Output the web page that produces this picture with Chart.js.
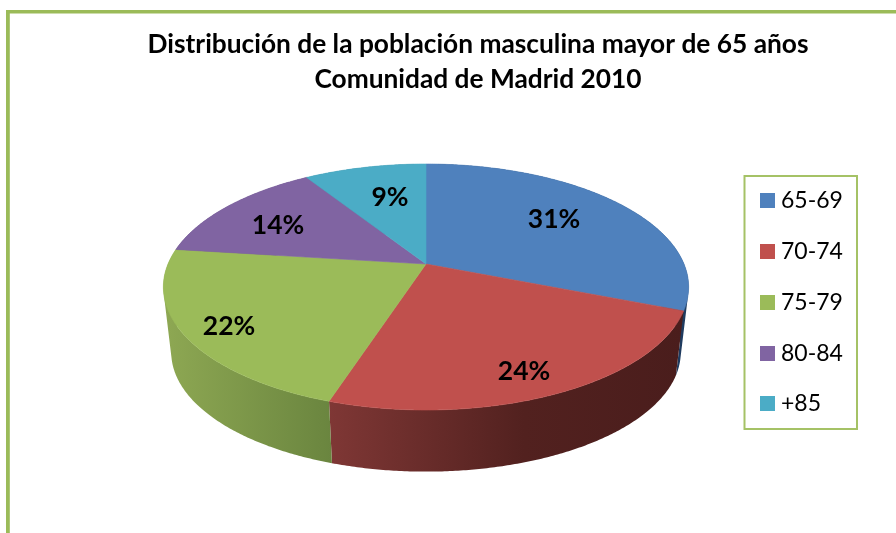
<!DOCTYPE html>
<html><head><meta charset="utf-8">
<style>html,body{margin:0;padding:0;background:#fff}canvas{display:block}</style>
<script src="https://cdn.jsdelivr.net/npm/chart.js@4/dist/chart.umd.min.js"></script>
</head><body>
<canvas id="c" width="896" height="533" style="width:896px;height:533px"></canvas>
<script>
const titleLines = ['Distribución de la población masculina mayor de 65 años','Comunidad de Madrid 2010'];
const categories = ['65-69','70-74','75-79','80-84','+85'];
const values = [31,24,22,14,9];
const colors = ['#4f81bd','#c0504d','#9bbb59','#8064a2','#4bacc6'];
const wallStops = [
  [[0,'#1f3b5f'],[1,'#1f3b5f']],
  [[0,'#7f3735'],[0.55,'#52211f'],[1,'#4a1d1c']],
  [[0,'#8ea853'],[1,'#6a853f']],
  [[0,'#5a4673'],[1,'#5a4673']],
  [[0,'#347a8d'],[1,'#347a8d']]
];
const labelSpots = [[554,219],[524,371],[229,326],[278,225],[390,197]];
const legendRows = [200.5,251.5,302.5,353.5,403.5];
const FRAME = '#9bbb59';

// Perspective view of the pie: top face and the base of the wall
const view = {cx:426, cy:264, rx:258, ry:118.7, k:0.187, baseCy:330, baseScale:0.97};
function project(a, r, cy, s){
  const u = Math.cos(a)*r, v = Math.sin(a)*r, w = 1 - view.k*v;
  return [view.cx + s*view.rx*u/w, cy + s*view.ry*v/w];
}
function sweep(a0, a1){
  const n = Math.max(2, Math.ceil((a1-a0)/(Math.PI/360))), out = [];
  for(let i=0;i<=n;i++) out.push(a0+(a1-a0)*i/n);
  return out;
}
function addQuad(c, q){
  let area = 0;
  q.forEach((p,i)=>{const n=q[(i+1)%4]; area += p[0]*n[1]-n[0]*p[1];});
  const pts = area<0 ? q.slice().reverse() : q;
  c.moveTo(pts[0][0],pts[0][1]);
  for(let i=1;i<4;i++) c.lineTo(pts[i][0],pts[i][1]);
  c.closePath();
}
const pie3d = {
  id:'pie3d',
  beforeDraw(chart){
    const c = chart.ctx;
    c.save();
    c.fillStyle = '#fff'; c.fillRect(0,0,chart.width,chart.height);
    c.fillStyle = FRAME;
    c.fillRect(6,10,chart.width-6,3.5);
    c.fillRect(6,10,3.8,chart.height-10);
    c.restore();
  },
  beforeDatasetsDraw(chart){
    const c = chart.ctx, arcs = chart.getDatasetMeta(0).data;
    c.save();
    // walls: one path of same-wound strips, so the silhouette is the hull of both rims
    arcs.forEach((el,i)=>{
      const as = sweep(el.startAngle, el.endAngle);
      const top = as.map(a=>project(a,1,view.cy,1));
      const bot = as.map(a=>project(a,1,view.baseCy,view.baseScale));
      const xs = top.concat(bot).map(p=>p[0]);
      const g = c.createLinearGradient(Math.min(...xs),0,Math.max(...xs),0);
      wallStops[i].forEach(s=>g.addColorStop(s[0],s[1]));
      c.beginPath();
      for(let j=0;j<as.length-1;j++) addQuad(c,[top[j],top[j+1],bot[j+1],bot[j]]);
      c.fillStyle = g;
      c.fill('nonzero');
    });
    // top face
    arcs.forEach((el,i)=>{
      c.beginPath();
      c.moveTo(view.cx,view.cy);
      sweep(el.startAngle, el.endAngle).forEach(a=>{const p=project(a,1,view.cy,1); c.lineTo(p[0],p[1]);});
      c.closePath();
      c.fillStyle = colors[i]; c.strokeStyle = colors[i]; c.lineWidth = 0.6;
      c.fill(); c.stroke();
    });
    // percent labels
    const total = values.reduce((a,b)=>a+b,0);
    c.fillStyle = '#000'; c.font = 'bold 26.5px Lato'; c.textAlign = 'center'; c.textBaseline = 'middle';
    values.forEach((v,i)=> c.fillText(Math.round(v/total*100)+'%', labelSpots[i][0], labelSpots[i][1]));
    c.restore();
    return false;
  },
  afterDraw(chart){
    const c = chart.ctx;
    c.save();
    c.strokeStyle = '#a5c266'; c.lineWidth = 2;
    c.strokeRect(744.5,176,112.5,253);
    c.font = '23px Lato'; c.textAlign = 'left'; c.textBaseline = 'middle';
    categories.forEach((name,i)=>{
      c.fillStyle = colors[i];
      c.fillRect(760,legendRows[i]-7.5,15,15);
      c.fillStyle = '#000';
      c.fillText(name,781,legendRows[i]);
    });
    c.restore();
  }
};
new Chart(document.getElementById('c'),{
  type:'pie',
  data:{labels:categories,datasets:[{data:values,backgroundColor:colors,borderWidth:0}]},
  options:{
    responsive:false,animation:false,
    layout:{padding:{left:60,top:27}},
    plugins:{
      tooltip:{enabled:false},
      legend:{display:false},
      title:{display:true,text:titleLines,color:'#000',align:'center',
        font:{family:'Lato',weight:'bold',size:26.3,lineHeight:1.33},padding:0}
    }
  },
  plugins:[pie3d]
});
</script>
</body></html>
